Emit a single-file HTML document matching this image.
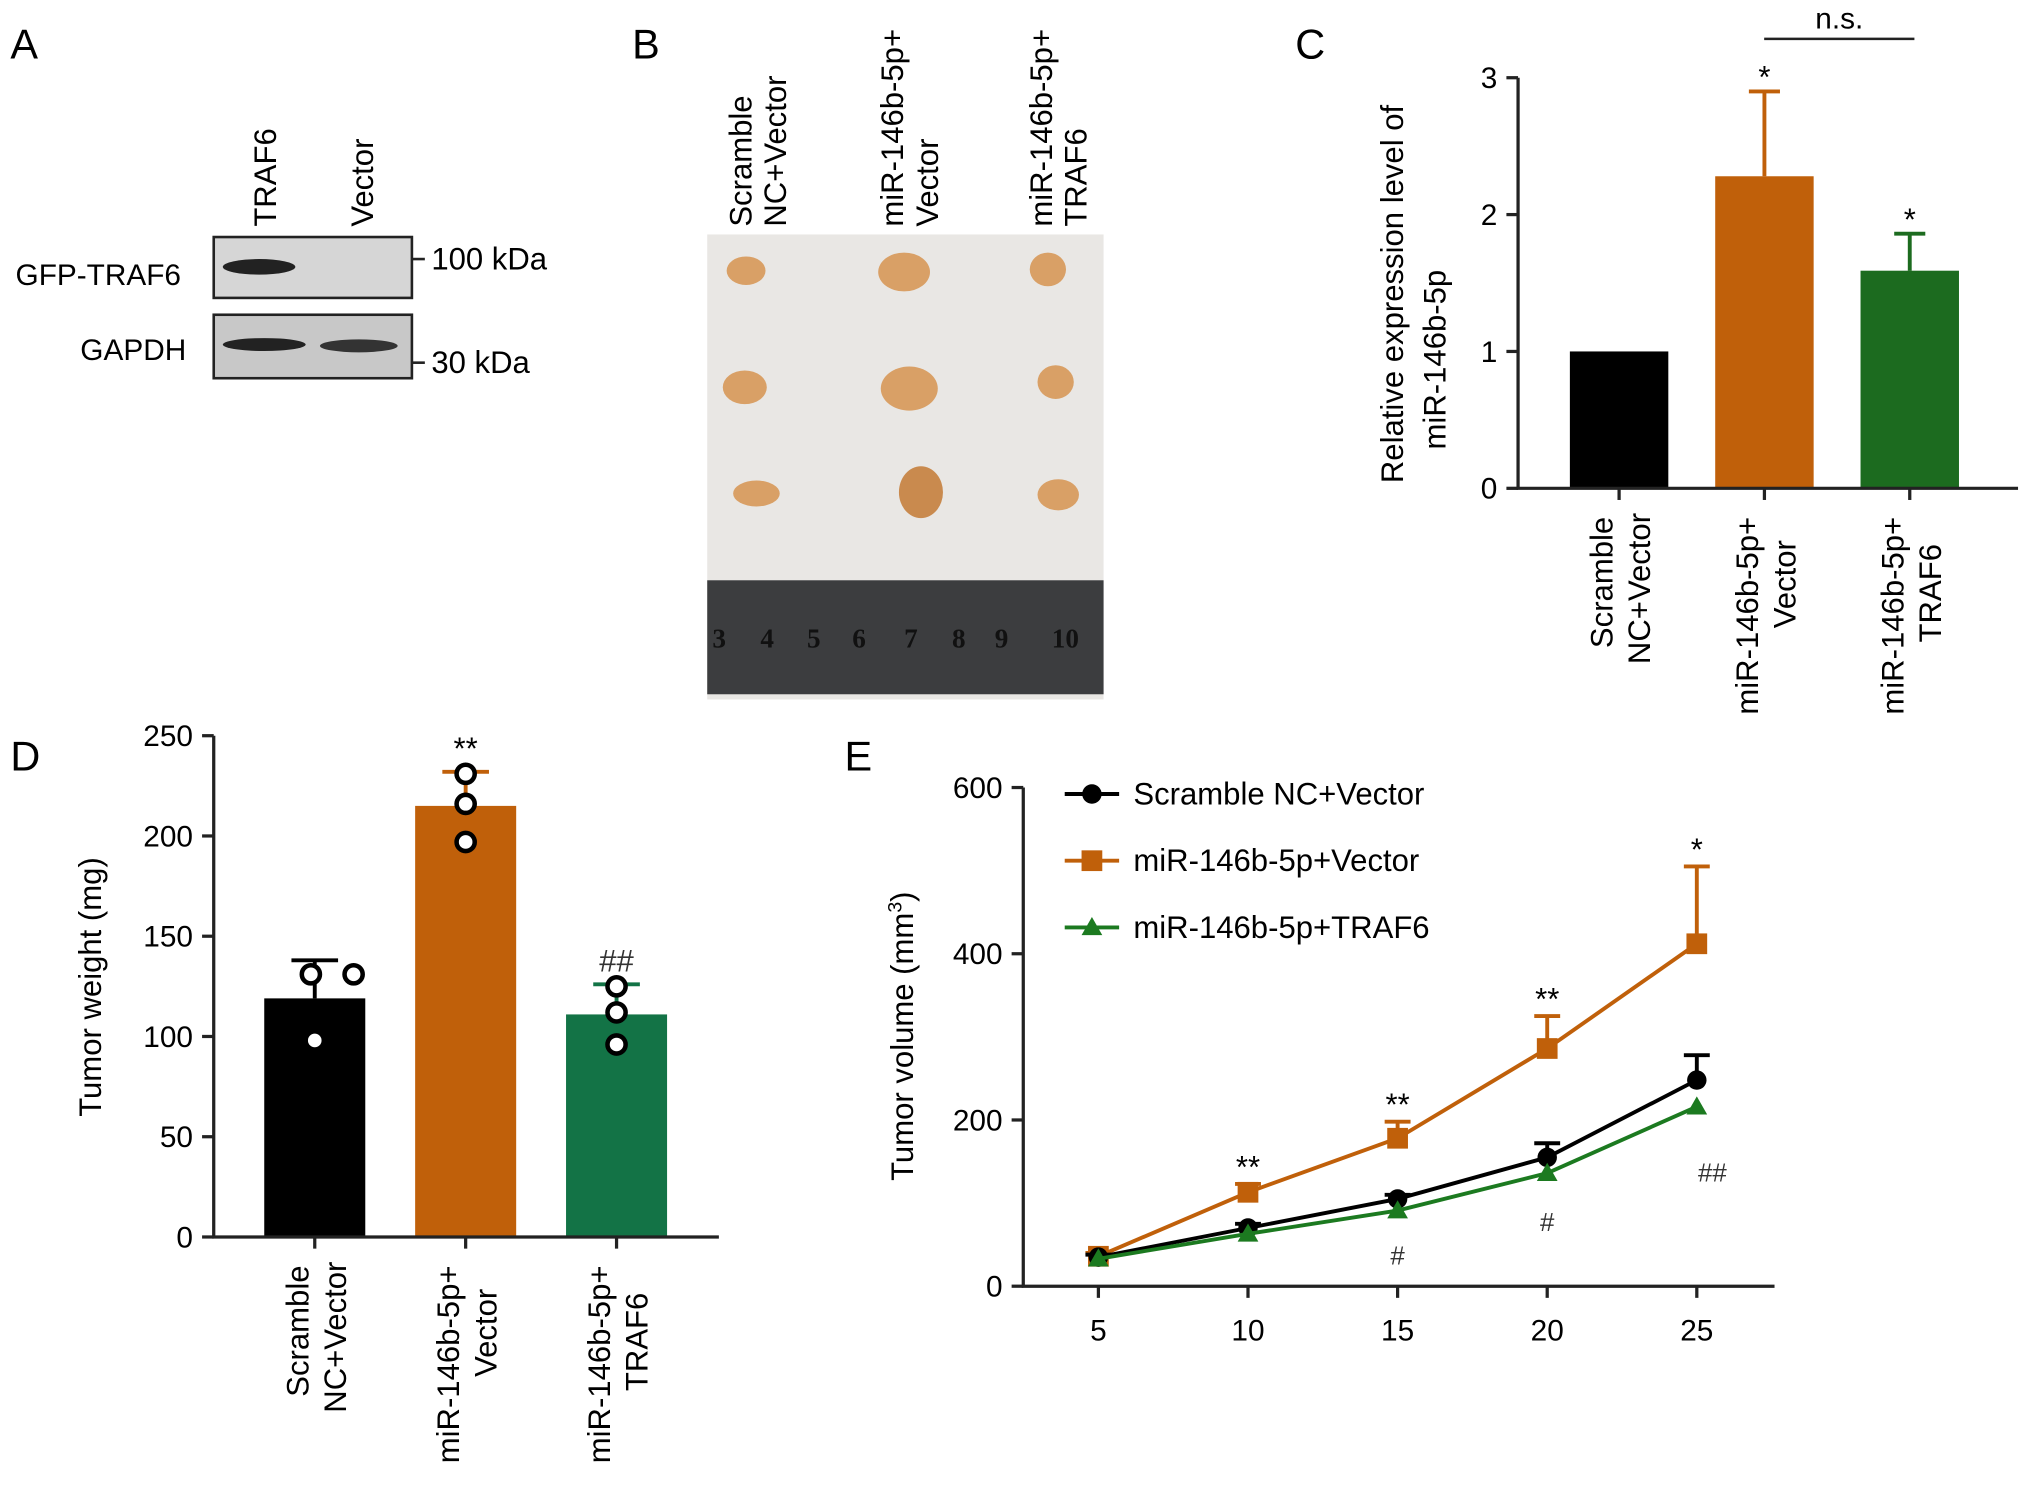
<!DOCTYPE html>
<html><head><meta charset="utf-8"><style>
html,body{margin:0;padding:0;background:#fff}
svg{display:block;font-family:"Liberation Sans",Arial,sans-serif}
</style></head><body>
<svg id="fig" width="2031" height="1495" viewBox="0 0 1568 1154.2" xmlns="http://www.w3.org/2000/svg">
<g>
<text x="8" y="45" font-size="32">A</text>
<text transform="translate(213,175) rotate(-90)" font-size="24">TRAF6</text>
<text transform="translate(288,175) rotate(-90)" font-size="24">Vector</text>
<rect x="165" y="183" width="153" height="47" fill="#d6d6d6" stroke="#222" stroke-width="2"/>
<ellipse cx="200" cy="206" rx="28" ry="6" fill="#222"/>
<rect x="165" y="243" width="153" height="49" fill="#c8c8c8" stroke="#222" stroke-width="2"/>
<ellipse cx="204" cy="266" rx="32" ry="5" fill="#222"/>
<ellipse cx="277" cy="267" rx="30" ry="5" fill="#333"/>
<text x="12" y="220" font-size="23">GFP-TRAF6</text>
<text x="62" y="278" font-size="23">GAPDH</text>
<line x1="318" y1="200" x2="328" y2="200" stroke="#222" stroke-width="2"/>
<line x1="318" y1="280" x2="328" y2="280" stroke="#222" stroke-width="2"/>
<text x="333" y="208" font-size="24">100 kDa</text>
<text x="333" y="288" font-size="24">30 kDa</text>
</g>
<g>
<text x="488" y="45" font-size="32">B</text>
<text transform="translate(580,175) rotate(-90)" font-size="24"><tspan x="0" y="0">Scramble</tspan><tspan x="0" y="27">NC+Vector</tspan></text>
<text transform="translate(697,175) rotate(-90)" font-size="24"><tspan x="0" y="0">miR-146b-5p+</tspan><tspan x="0" y="27">Vector</tspan></text>
<text transform="translate(812,175) rotate(-90)" font-size="24"><tspan x="0" y="0">miR-146b-5p+</tspan><tspan x="0" y="27">TRAF6</tspan></text>
<rect x="546" y="181" width="306" height="359" fill="#e9e7e4"/>
<rect x="546" y="448" width="306" height="88" fill="#3c3d3f"/>
<text x="550" y="500" font-size="21" fill="#111" font-weight="bold" font-family="Liberation Serif"><tspan x="550">3</tspan><tspan x="587">4</tspan><tspan x="623">5</tspan><tspan x="658">6</tspan><tspan x="698">7</tspan><tspan x="735">8</tspan><tspan x="768">9</tspan><tspan x="812">10</tspan></text>
<g fill="#d9a066">
<ellipse cx="576" cy="209" rx="15" ry="11"/><ellipse cx="698" cy="210" rx="20" ry="15"/><ellipse cx="809" cy="208" rx="14" ry="13"/>
<ellipse cx="575" cy="299" rx="17" ry="13"/><ellipse cx="702" cy="300" rx="22" ry="17"/><ellipse cx="815" cy="295" rx="14" ry="13"/>
<ellipse cx="584" cy="381" rx="18" ry="10" /><ellipse cx="711" cy="380" rx="17" ry="20" fill="#c98a4e"/><ellipse cx="817" cy="382" rx="16" ry="12"/>
</g>
</g>
<g id="pc">
<text x="1000" y="45" font-size="32">C</text>
<text transform="translate(1083,373) rotate(-90)" font-size="24"><tspan x="0" y="0">Relative expression level of</tspan><tspan x="26" y="33">miR-146b-5p</tspan></text>
<line x1="1362" y1="30" x2="1478" y2="30" stroke="#222" stroke-width="2"/>
<text x="1420" y="22" font-size="23" text-anchor="middle">n.s.</text>
</g>
<g id="pd">
<text x="8" y="595" font-size="32">D</text>
<text transform="translate(78,762) rotate(-90)" font-size="24" text-anchor="middle">Tumor weight (mg)</text>
</g>
<g id="pe">
<text x="652" y="595" font-size="32">E</text>
<text transform="translate(705,800) rotate(-90)" font-size="24" text-anchor="middle">Tumor volume (mm<tspan font-size="15" dy="-9">3</tspan><tspan dy="9">)</tspan></text>
</g>
</svg>
<script>
const cCats=[["Scramble","NC+Vector"],["miR-146b-5p+","Vector"],["miR-146b-5p+","TRAF6"]];
const cVals=[1,2.28,1.59];
const cErr=[0,0.62,0.27];
const cTicks=[0,1,2,3];
const cStars=["","*","*"];
const dCats=[["Scramble","NC+Vector"],["miR-146b-5p+","Vector"],["miR-146b-5p+","TRAF6"]];
const dVals=[119,215,111];
const dErr=[19,17,15];
const dPts=[[98,131,131],[231,216,197],[125,112,96]];
const dTicks=[0,50,100,150,200,250];
const dMarks=["","**","##"];
const eDays=[5,10,15,20,25];
const eBlack=[35,70,105,155,248];
const eBlackErr=[3,5,5,17,30];
const eOrange=[36,113,178,286,412];
const eOrangeErr=[4,10,20,39,93];
const eGreen=[33,63,91,136,216];
const eYTicks=[0,200,400,600];
const eStars=["","**","**","**","*"];
const eHash=["","","#","#","##"];
const eHashY=[0,0,20,60,120];

const NS="http://www.w3.org/2000/svg";
function mk(parent,tag,attrs,text){const e=document.createElementNS(NS,tag);for(const k in attrs)e.setAttribute(k,attrs[k]);if(text!==undefined)e.textContent=text;parent.appendChild(e);return e;}
const sw=2.5;

(function(){
const g=document.getElementById('pc');
const x0=1172,x1=1558,yb=377,yt=60;
const y=v=>yb-(v/3)*(yb-yt);
const cx=i=>1250+i*93.5*1.2;
const cols=["#000","#c0600a","#1c6b1f"];
cVals.forEach((v,i)=>{
 const r=mk(g,'rect',{x:cx(i)-38,y:y(v),width:76,height:yb-y(v),fill:cols[i]});
 
 if(cErr[i]>0){const e=mk(g,'path',{d:`M${cx(i)} ${y(v)}V${y(v+cErr[i])}M${cx(i)-12} ${y(v+cErr[i])}H${cx(i)+12}`,stroke:cols[i],'stroke-width':3,fill:'none'});
 }
 if(cStars[i]){const t=mk(g,'text',{x:cx(i),y:y(v+cErr[i])-3,'font-size':24,'text-anchor':'middle'},cStars[i]);
 }
 mk(g,'line',{x1:cx(i),y1:yb,x2:cx(i),y2:yb+9,stroke:'#222','stroke-width':sw});
 const t=mk(g,'text',{transform:`translate(${cx(i)-5},${yb+22}) rotate(-90)`,'font-size':24,'text-anchor':'end'});
 
 mk(t,'tspan',{x:0,y:0},cCats[i][0]);mk(t,'tspan',{x:-((cCats[i][0].length-cCats[i][1].length)*3),y:29},cCats[i][1]);
});
const ax=mk(g,'path',{d:`M${x0} ${yt}V${yb}H${x1}`,stroke:'#222','stroke-width':sw,fill:'none'});

cTicks.forEach(v=>{mk(g,'line',{x1:x0-9,y1:y(v),x2:x0,y2:y(v),stroke:'#222','stroke-width':sw});
 const t=mk(g,'text',{x:x0-16,y:y(v)+8,'font-size':23,'text-anchor':'end'},v);
 });
})();

(function(){
const g=document.getElementById('pd');
const x0=165,x1=555,yb=955,yt=568;
const y=v=>yb-(v/250)*(yb-yt);
const cx=i=>243+i*116.5;
const cols=["#000","#c0600a","#137346"];
dVals.forEach((v,i)=>{
 const r=mk(g,'rect',{x:cx(i)-39,y:y(v),width:78,height:yb-y(v),fill:cols[i]});
 
 const e=mk(g,'path',{d:`M${cx(i)} ${y(v)}V${y(v+dErr[i])}M${cx(i)-18} ${y(v+dErr[i])}H${cx(i)+18}`,stroke:cols[i],'stroke-width':3,fill:'none'});
 
 const off=i==0?[0,-3,30]:[0,0,0];
 dPts[i].forEach((p,j)=>{const c=mk(g,'circle',{cx:cx(i)+off[j],cy:y(p),r:7,fill:'#fff',stroke:'#000','stroke-width':3.5});
  });
 if(dMarks[i]){const t=mk(g,'text',{x:cx(i),y:y(v+dErr[i])-10,'font-size':24,'text-anchor':'middle',fill:i==2?'#333':'#000'},dMarks[i]);
 }
 mk(g,'line',{x1:cx(i),y1:yb,x2:cx(i),y2:yb+9,stroke:'#222','stroke-width':sw});
 const t=mk(g,'text',{transform:`translate(${cx(i)-5},${yb+22}) rotate(-90)`,'font-size':24,'text-anchor':'end'});
 
 mk(t,'tspan',{x:0,y:0},dCats[i][0]);mk(t,'tspan',{x:-((dCats[i][0].length-dCats[i][1].length)*3),y:29},dCats[i][1]);
});
const ax=mk(g,'path',{d:`M${x0} ${yt}V${yb}H${x1}`,stroke:'#222','stroke-width':sw,fill:'none'});

dTicks.forEach(v=>{mk(g,'line',{x1:x0-9,y1:y(v),x2:x0,y2:y(v),stroke:'#222','stroke-width':sw});
 const t=mk(g,'text',{x:x0-16,y:y(v)+8,'font-size':23,'text-anchor':'end'},v);
 });
})();

(function(){
const g=document.getElementById('pe');
const x0=790,x1=1370,yb=993,yt=608;
const y=v=>yb-(v/600)*(yb-yt);
const x=d=>848+(d-5)*23.1;
const ax=mk(g,'path',{d:`M${x0} ${yt}V${yb}H${x1}`,stroke:'#222','stroke-width':sw,fill:'none'});

eYTicks.forEach(v=>{mk(g,'line',{x1:x0-9,y1:y(v),x2:x0,y2:y(v),stroke:'#222','stroke-width':sw});
 const t=mk(g,'text',{x:x0-16,y:y(v)+8,'font-size':23,'text-anchor':'end'},v);
 });
eDays.forEach(d=>{mk(g,'line',{x1:x(d),y1:yb,x2:x(d),y2:yb+9,stroke:'#222','stroke-width':sw});
 const t=mk(g,'text',{x:x(d),y:yb+42,'font-size':23,'text-anchor':'middle'},d);
 });
function series(vals,err,col,shape,name){
 if(err)vals.forEach((v,i)=>{const p=mk(g,'path',{d:`M${x(eDays[i])} ${y(v)}V${y(v+err[i])}M${x(eDays[i])-10} ${y(v+err[i])}H${x(eDays[i])+10}`,stroke:col,'stroke-width':3,fill:'none'});
  });
 const l=mk(g,'polyline',{points:vals.map((v,i)=>x(eDays[i])+','+y(v)).join(' '),stroke:col,'stroke-width':3,fill:'none'});
 
 vals.forEach((v,i)=>{const px=x(eDays[i]),py=y(v);let m;
  if(shape=='c')m=mk(g,'circle',{cx:px,cy:py,r:7.5,fill:col});
  else if(shape=='s')m=mk(g,'rect',{x:px-8,y:py-8,width:16,height:16,fill:col});
  else m=mk(g,'path',{d:`M${px} ${py-8}L${px+8} ${py+6}L${px-8} ${py+6}Z`,fill:col});
  });
}
series(eOrange,eOrangeErr,'#c0600a','s','e-orange');
series(eBlack,eBlackErr,'#000','c','e-black');
series(eGreen,null,'#1c7a20','t','e-green');
eDays.forEach((d,i)=>{
 if(eStars[i]){const t=mk(g,'text',{x:x(d),y:y(eOrange[i]+eOrangeErr[i])-5,'font-size':24,'text-anchor':'middle'},eStars[i]);
  }
 if(eHash[i]){const t=mk(g,'text',{x:x(d)+(i==4?12:0),y:y(eHashY[i])-4,'font-size':20,'text-anchor':'middle',fill:'#333'},eHash[i]);
  }
});
const leg=[["Scramble NC+Vector","#000","c"],["miR-146b-5p+Vector","#c0600a","s"],["miR-146b-5p+TRAF6","#1c7a20","t"]];
leg.forEach((L,i)=>{const ly=613+i*51.5;
 const lg=mk(g,'g',{});
 mk(lg,'line',{x1:822,y1:ly,x2:864,y2:ly,stroke:L[1],'stroke-width':3});
 if(L[2]=='c')mk(lg,'circle',{cx:843,cy:ly,r:7.5,fill:L[1]});
 else if(L[2]=='s')mk(lg,'rect',{x:835,y:ly-8,width:16,height:16,fill:L[1]});
 else mk(lg,'path',{d:`M843 ${ly-8}L851 ${ly+6}L835 ${ly+6}Z`,fill:L[1]});
 mk(lg,'text',{x:875,y:ly+8,'font-size':24},L[0]);
});
})();
</script>
</body></html>
